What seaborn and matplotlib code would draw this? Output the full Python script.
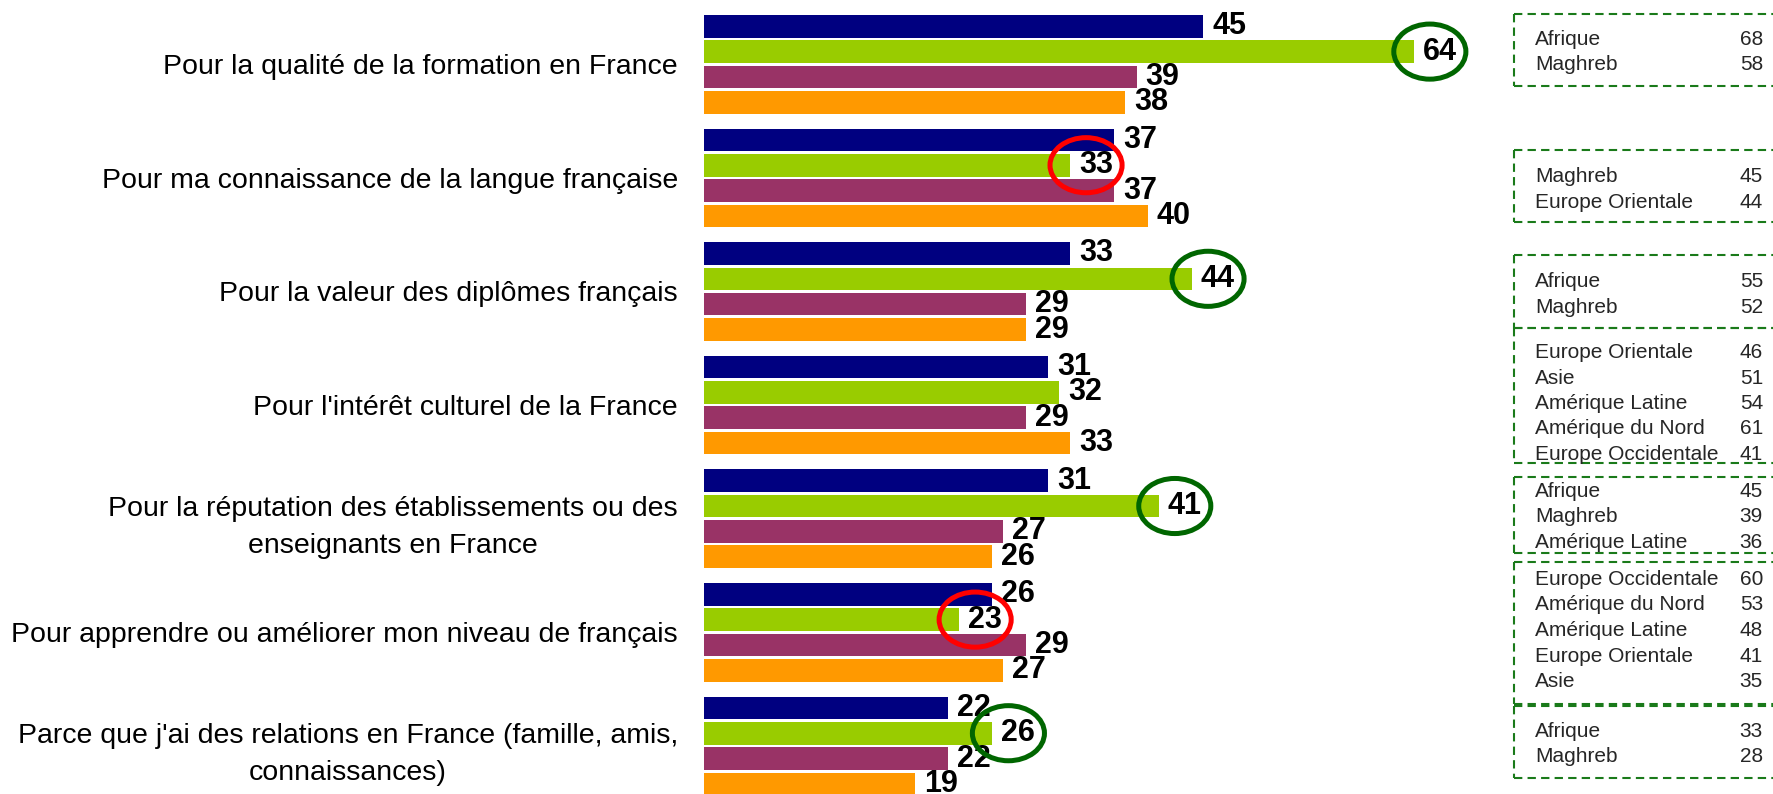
import pandas as pd
import numpy as np
import matplotlib
matplotlib.use("Agg")
import matplotlib.pyplot as plt
from matplotlib.patches import Ellipse
from matplotlib.lines import Line2D
import seaborn as sns

# motifs (ordre du haut vers le bas)
motifs = [
    "Pour la qualité de la formation en France",
    "Pour ma connaissance de la langue française",
    "Pour la valeur des diplômes français",
    "Pour l'intérêt culturel de la France",
    "Pour la réputation des établissements ou des\nenseignants en France",
    "Pour apprendre ou améliorer mon niveau de français",
    "Parce que j'ai des relations en France (famille, amis,\nconnaissances)",
]
series = ["Série 1", "Série 2", "Série 3", "Série 4"]
serie_1 = [45, 37, 33, 31, 31, 26, 22]
serie_2 = [64, 33, 44, 32, 41, 23, 26]
serie_3 = [39, 37, 29, 29, 27, 29, 22]
serie_4 = [38, 40, 29, 33, 26, 27, 19]
couleurs = ["#000080", "#99CC00", "#993366", "#FF9900"]

# cercles autour de la série 2 : "+" = au-dessus, "-" = en-dessous
marques = ["+", "-", "+", None, "+", "-", "+"]

# encadrés de détail par région
regions = [
    ["Afrique", "Maghreb"],
    ["Maghreb", "Europe Orientale"],
    ["Afrique", "Maghreb"],
    ["Europe Orientale", "Asie", "Amérique Latine", "Amérique du Nord", "Europe Occidentale"],
    ["Afrique", "Maghreb", "Amérique Latine"],
    ["Europe Occidentale", "Amérique du Nord", "Amérique Latine", "Europe Orientale", "Asie"],
    ["Afrique", "Maghreb"],
]
regions_val = [
    [68, 58],
    [45, 44],
    [55, 52],
    [46, 51, 54, 61, 41],
    [45, 39, 36],
    [60, 53, 48, 41, 35],
    [33, 28],
]

W, H = 1773, 794
PX = 11.09        # pixels par point de %
X0 = 704          # début des barres
PITCH = 113.6     # écart entre groupes
C0 = 64.3         # centre du premier groupe
VERT = "#1a7a1a"


def fx(x):
    return x / W


def fy(y):
    return 1 - y / H


def main():
    df = pd.DataFrame({
        "motif": np.repeat(motifs, 4),
        "serie": series * len(motifs),
        "valeur": np.ravel(np.column_stack([serie_1, serie_2, serie_3, serie_4])),
    })

    sns.set_style("white")
    plt.rcParams["font.family"] = ["Liberation Sans", "DejaVu Sans"]

    fig = plt.figure(figsize=(W / 100, H / 100), dpi=100)
    ax = fig.add_axes([X0 / W, 0, 1 - X0 / W, 1])

    sns.barplot(data=df, y="motif", x="valeur", hue="serie", hue_order=series,
                order=motifs, orient="h", palette=couleurs, saturation=1,
                width=0.894, gap=0.11, linewidth=0, legend=False, ax=ax)

    ax.set_xlim(0, (W - X0) / PX)
    ax.set_ylim(6 + (H - C0 - 6 * PITCH) / PITCH, -C0 / PITCH)
    ax.set_xlabel("")
    ax.set_ylabel("")
    ax.set_xticks([])
    sns.despine(ax=ax, left=True, bottom=True)
    ax.tick_params(axis="y", length=0, pad=18.7, labelsize=20.5, labelcolor="black")
    for t in ax.get_yticklabels():
        t.set_multialignment("center")
        t.set_linespacing(1.57)

    for cont in ax.containers:
        ax.bar_label(cont, padding=6.5, fontsize=22, fontweight="bold", color="black")

    # cercles autour des valeurs de la série 2
    verts = ax.containers[1]
    for i, m in enumerate(marques):
        if m is None:
            continue
        p = verts[i]
        xc = p.get_width() + 1.45
        yc = p.get_y() + p.get_height() / 2
        ax.add_patch(Ellipse((xc, yc), 6.5, 0.485, fill=False,
                             edgecolor="#006600" if m == "+" else "#FF0000",
                             lw=3.6, zorder=5))

    # encadrés (bords tracés de gauche à droite pour garder le même pointillé)
    boites = [(14, 86), (150, 222), (255, 328), (328, 463), (477, 553), (562, 704), (706, 778)]
    premieres = [45, 182, 287, 358, 497, 585, 737]
    style = dict(transform=fig.transFigure, color=VERT, lw=1.5, ls=(0, (4, 2.5)))
    for (top, bot), y0, noms, vals in zip(boites, premieres, regions, regions_val):
        for yy in (top, bot):
            fig.add_artist(Line2D([fx(1514), fx(1800)], [fy(yy), fy(yy)], **style))
        fig.add_artist(Line2D([fx(1514), fx(1514)], [fy(top), fy(bot)], **style))
        for k, (n, v) in enumerate(zip(noms, vals)):
            yb = fy(y0 + k * 25.5)
            fig.text(fx(1535), yb, n, fontsize=15, va="baseline", ha="left")
            fig.text(fx(1763), yb, str(v), fontsize=15, va="baseline", ha="right")

    fig.savefig("out.png", dpi=100, facecolor="white")


if __name__ == "__main__":
    main()
